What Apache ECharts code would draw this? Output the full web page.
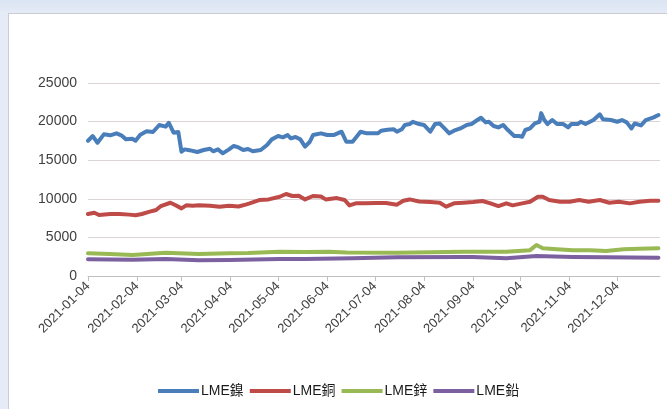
<!DOCTYPE html>
<html>
<head>
<meta charset="utf-8">
<script src="https://cdn.jsdelivr.net/npm/echarts@6/dist/echarts.min.js"></script>
<style>
html,body{margin:0;padding:0;width:667px;height:409px;overflow:hidden;}
body{background:linear-gradient(180deg,#dbe4f3 0px,#e6ecf7 14px,#e6ecf7 100%);position:relative;}
#frame{position:absolute;left:8px;top:13px;width:700px;height:420px;background:#fff;border:1px solid #c9ccd3;box-sizing:border-box;}
#chart{position:absolute;left:0;top:0;width:667px;height:409px;}
</style>
</head>
<body>
<div id="frame"></div>
<div id="chart"></div>
<script>
var seriesNames = ['LME鎳', 'LME銅', 'LME鋅', 'LME鉛'];
var tickLabels = ['2021-01-04','2021-02-04','2021-03-04','2021-04-04','2021-05-04','2021-06-04','2021-07-04','2021-08-04','2021-09-04','2021-10-04','2021-11-04','2021-12-04'];
var axisStart = '2021-01-04';
var axisEnd = '2021-12-31';
var yTicks = [0, 5000, 10000, 15000, 20000, 25000];

var nickelDates = ['01-04','01-07','01-10','01-14','01-18','01-22','01-25','01-28','02-01','02-03','02-06','02-10','02-14','02-18','02-22','02-24','02-27','03-02','03-03','03-04','03-06','03-09','03-14','03-18','03-22','03-24','03-27','03-30','04-03','04-06','04-09','04-12','04-15','04-18','04-23','04-27','04-30','05-04','05-07','05-10','05-12','05-15','05-18','05-21','05-24','05-26','05-31','06-04','06-08','06-13','06-16','06-20','06-25','06-29','07-03','07-06','07-08','07-12','07-16','07-18','07-21','07-23','07-26','07-28','08-01','08-04','08-08','08-11','08-14','08-17','08-20','08-23','08-27','08-31','09-03','09-06','09-09','09-12','09-14','09-17','09-20','09-23','09-26','09-30','10-03','10-05','10-07','10-10','10-13','10-16','10-17','10-19','10-21','10-24','10-27','10-31','11-03','11-05','11-09','11-11','11-14','11-19','11-23','11-25','11-30','12-04','12-07','12-10','12-13','12-15','12-19','12-22','12-27','12-30'];
var nickel = [17520,18130,17260,18350,18220,18480,18220,17700,17780,17520,18300,18740,18650,19560,19350,19850,18560,18650,18700,16100,16400,16300,16060,16320,16490,16150,16400,15890,16400,16840,16660,16320,16450,16150,16320,16970,17700,18130,17960,18260,17830,18000,17700,16750,17390,18260,18480,18260,18260,18690,17390,17390,18690,18480,18480,18480,18820,18950,19000,18690,19000,19560,19680,19980,19680,19560,18690,19680,19750,19120,18480,18820,19120,19560,19680,20110,20500,19900,19980,19430,19250,19560,18910,18130,18130,18040,18910,19120,19770,19980,21100,20200,19680,20200,19680,19680,19250,19680,19680,19980,19680,20200,20940,20300,20200,19980,20200,19900,19120,19750,19500,20200,20550,20850];

var copperDates = ['01-04','01-08','01-11','01-18','01-24','01-30','02-03','02-07','02-12','02-16','02-19','02-25','02-28','03-04','03-07','03-11','03-15','03-22','03-28','04-03','04-09','04-14','04-16','04-22','04-28','05-05','05-09','05-13','05-17','05-21','05-26','05-31','06-03','06-10','06-15','06-18','06-22','06-28','07-05','07-11','07-18','07-22','07-26','08-01','08-08','08-14','08-18','08-23','08-29','09-04','09-10','09-15','09-20','09-25','09-29','10-05','10-10','10-15','10-18','10-22','10-29','11-04','11-10','11-16','11-23','11-29','12-05','12-12','12-18','12-25','12-30'];
var copper = [8030,8200,7900,8030,8030,7950,7860,8030,8330,8550,9060,9490,9200,8760,9150,9100,9150,9100,8980,9100,9000,9280,9410,9840,9920,10270,10620,10360,10400,9920,10360,10300,9920,10090,9840,9150,9410,9410,9450,9450,9240,9750,9920,9660,9580,9490,8980,9410,9490,9580,9710,9410,9060,9410,9150,9410,9620,10270,10270,9840,9620,9620,9840,9620,9840,9490,9620,9410,9620,9750,9750];

var zincDates = ['01-04','01-18','02-01','02-22','03-15','04-03','04-15','05-05','05-21','06-05','06-16','07-18','08-29','09-25','10-10','10-14','10-18','10-27','11-06','11-17','11-27','12-08','12-18','12-30'];
var zinc = [2940,2850,2720,3020,2850,2940,2980,3150,3100,3150,3050,3020,3150,3150,3350,4010,3590,3450,3330,3330,3250,3450,3520,3590];

var leadDates = ['01-04','02-01','02-22','03-15','04-03','05-05','05-21','06-20','07-18','08-29','09-04','09-25','10-14','11-06','11-27','12-30'];
var lead = [2160,2120,2200,2030,2070,2200,2200,2300,2420,2460,2460,2290,2590,2460,2420,2370];

var DAY = 86400000;
var t0 = Date.parse(axisStart);
function dayOf(s) { return Math.round((Date.parse(s) - t0) / DAY); }
function pairs(dates, vals) {
  return dates.map(function (d, i) { return [dayOf('2021-' + d), vals[i]]; });
}
var tickDays = tickLabels.map(dayOf);
var labelMap = {};
tickLabels.forEach(function (s, i) { labelMap[tickDays[i]] = s; });

var colors = ['#4a7ebb', '#be4b48', '#98b954', '#7d60a0'];
var font = '"Liberation Sans", Arial, "Noto Sans CJK TC", sans-serif';

var chart = echarts.init(document.getElementById('chart'), null, { renderer: 'canvas' });
var dataSets = [pairs(nickelDates, nickel), pairs(copperDates, copper), pairs(zincDates, zinc), pairs(leadDates, lead)];

chart.setOption({
  animation: false,
  color: colors,
  textStyle: { fontFamily: font },
  grid: { left: 88, right: 7, top: 83, bottom: 133, containLabel: false },
  legend: {
    left: 153, top: 379,
    icon: 'rect', itemWidth: 41, itemHeight: 4, itemGap: 6,
    textStyle: { fontSize: 14, color: '#1a1a1a', fontFamily: font, padding: [0, 0, 0, -3] },
    data: seriesNames
  },
  xAxis: {
    type: 'value', min: 0, max: dayOf(axisEnd),
    axisLine: { show: true, lineStyle: { color: '#bfbfbf', width: 1 } },
    axisTick: { show: true, inside: false, length: 5, customValues: tickDays, lineStyle: { color: '#bfbfbf' } },
    splitLine: { show: false },
    axisLabel: {
      customValues: tickDays, rotate: 45, margin: 8,
      fontSize: 13, color: '#404040', fontFamily: font,
      padding: [14, 0, 0, 0],
      formatter: function (v) { return labelMap[Math.round(v)] || ''; }
    }
  },
  yAxis: {
    type: 'value', min: yTicks[0], max: yTicks[yTicks.length - 1], interval: 5000,
    axisLine: { show: false }, axisTick: { show: false },
    splitLine: { show: true, lineStyle: { color: '#dcd4d4', width: 1 } },
    axisLabel: { fontSize: 14, color: '#404040', margin: 11, fontFamily: font,
      formatter: function (v) { return String(v); } }
  },
  series: seriesNames.map(function (n, i) {
    return {
      name: n, type: 'line', data: dataSets[i], showSymbol: false, symbol: 'none',
      lineStyle: { width: 4, cap: 'round', join: 'round' }
    };
  })
});
</script>
</body>
</html>
